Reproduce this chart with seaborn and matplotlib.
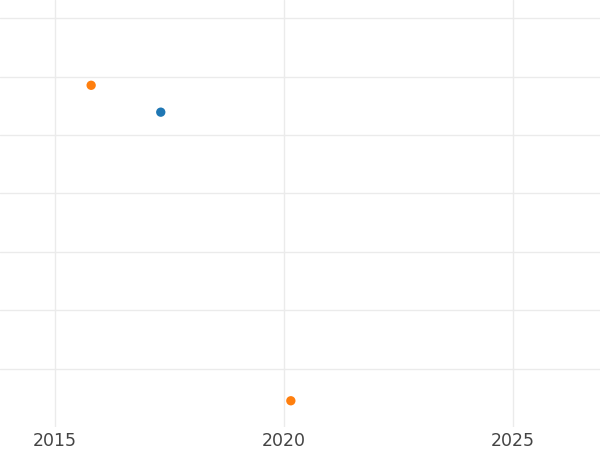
import pandas as pd
import numpy as np
import seaborn as sns
import matplotlib
matplotlib.use("Agg")
import matplotlib.pyplot as plt

# values
years = [2015.79, 2017.31, 2020.15]
values = [5.85, 5.39, 0.45]
groups = ["b", "a", "b"]
palette = {"a": "#1f77b4", "b": "#ff7f0e"}
xticks = [2015, 2020, 2025]
yticks = [1, 2, 3, 4, 5, 6, 7]

df = pd.DataFrame({"year": years, "value": values, "group": groups})

sns.set_style("white")
fig = plt.figure(figsize=(6, 4.5), dpi=100)
ax = fig.add_axes([0, 0.051, 1, 0.949])

sns.scatterplot(data=df, x="year", y="value", hue="group", palette=palette,
                s=45, linewidth=0, legend=False, ax=ax, zorder=3)

ax.set_xlim(2013.8, 2026.9)
ax.set_ylim(0, 7.31)
ax.set_xticks(xticks)
ax.set_yticks(yticks)
ax.set_yticklabels([])
ax.grid(True, color="#ebebeb", linewidth=1.0)
ax.set_axisbelow(True)
ax.tick_params(axis="both", length=0, labelsize=12.5, labelcolor="#444444")
ax.set_xlabel("")
ax.set_ylabel("")
for s in ax.spines.values():
    s.set_visible(False)

fig.savefig("out.png", dpi=100)
